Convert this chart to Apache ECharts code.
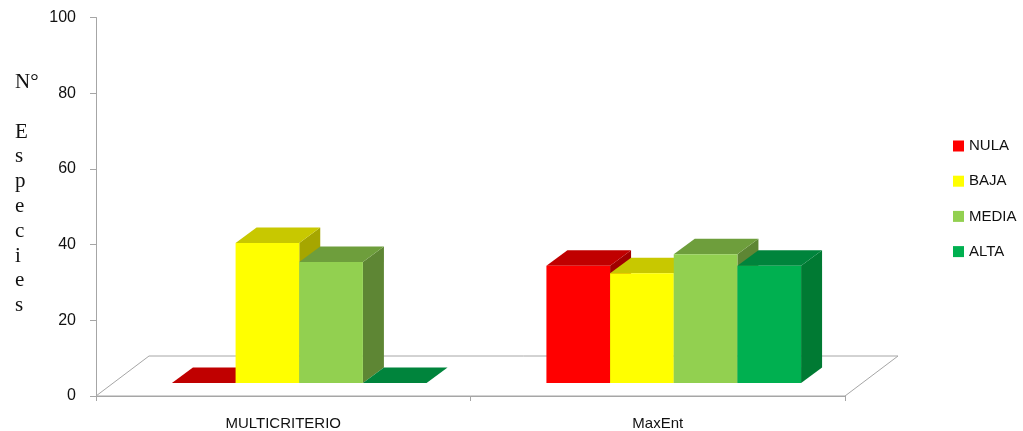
<!DOCTYPE html>
<html>
<head>
<meta charset="utf-8">
<script src="https://cdn.jsdelivr.net/npm/echarts@6/dist/echarts.min.js"></script>
<style>
  html, body { margin: 0; padding: 0; background: #fff; }
  #chart { width: 1023px; height: 431px; }
</style>
</head>
<body>
<div id="chart"></div>
<script>
// Species counts per suitability level, for each modelling method
const categories = ['MULTICRITERIO', 'MaxEnt'];
const levels = ['NULA', 'BAJA', 'MEDIA', 'ALTA'];
const nula = [0, 31];
const baja = [37, 29];
const media = [32, 34];
const alta = [0, 31];
const yTicks = [0, 20, 40, 60, 80, 100];

// Face colours for each level: front, top, side
const faces = {
  NULA:  { front: '#FF0000', top: '#C00000', side: '#A00000' },
  BAJA:  { front: '#FFFF00', top: '#C8C800', side: '#A6A600' },
  MEDIA: { front: '#92D050', top: '#6E9E3C', side: '#5E8634' },
  ALTA:  { front: '#00B050', top: '#00843C', side: '#007A33' }
};

// Oblique projection used for the pseudo-3D look
const FLOOR_DX = 53, FLOOR_DY = -40;   // full depth of the floor
const FRONT_DX = 16, FRONT_DY = -13;   // where the bars' front faces sit
const SIDE_DX = 21, SIDE_DY = -15.5;   // depth of each bar
const BAR_FRACTION = 0.17;             // bar width as share of a category band

const chart = echarts.init(document.getElementById('chart'), null, { renderer: 'canvas' });

function floorRender(params, api) {
  const cs = params.coordSys;
  const fl = [cs.x, cs.y + cs.height];
  const fr = [cs.x + cs.width, cs.y + cs.height];
  return {
    type: 'polygon',
    shape: { points: [fl, fr, [fr[0] + FLOOR_DX, fr[1] + FLOOR_DY], [fl[0] + FLOOR_DX, fl[1] + FLOOR_DY]] },
    style: { fill: '#FFFFFF', stroke: '#A6A6A6', lineWidth: 1 },
    silent: true
  };
}

function makeBarRender(idx, col) {
  return function (params, api) {
    const cat = api.value(0);
    const v = api.value(1);
    const base = api.coord([cat, 0]);
    const band = api.size([1, 0])[0];
    const barW = band * BAR_FRACTION;
    const h = api.size([0, v])[1];
    const x0 = base[0] - 2 * barW + idx * barW + FRONT_DX;
    const x1 = x0 + barW;
    const yb = base[1] + FRONT_DY;
    const yt = yb - h;
    const children = [];
    if (h > 0.5) {
      children.push({
        type: 'polygon',
        shape: { points: [[x1, yb], [x1 + SIDE_DX, yb + SIDE_DY], [x1 + SIDE_DX, yt + SIDE_DY], [x1, yt]] },
        style: { fill: col.side }
      });
    }
    children.push({
      type: 'polygon',
      shape: { points: [[x0, yt], [x1, yt], [x1 + SIDE_DX, yt + SIDE_DY], [x0 + SIDE_DX, yt + SIDE_DY]] },
      style: { fill: col.top }
    });
    if (h > 0.5) {
      children.push({
        type: 'rect',
        shape: { x: x0, y: yt, width: barW, height: h },
        style: { fill: col.front }
      });
    }
    return { type: 'group', children: children };
  };
}

const seriesValues = [nula, baja, media, alta];

const series = [{
  type: 'custom',
  name: 'floor',
  renderItem: floorRender,
  data: [[0, 0]],
  z: 1,
  silent: true,
  legendHoverLink: false
}];

levels.forEach(function (lvl, i) {
  series.push({
    type: 'custom',
    name: lvl,
    renderItem: makeBarRender(i, faces[lvl]),
    itemStyle: { color: faces[lvl].front },
    data: categories.map(function (c, k) { return [k, seriesValues[i][k]]; }),
    z: 3 + i
  });
});

chart.setOption({
  animation: false,
  backgroundColor: '#FFFFFF',
  grid: { left: 96, right: 178, top: 17.5, bottom: 34, containLabel: false },
  xAxis: {
    type: 'category',
    data: categories,
    axisLine: { show: true, lineStyle: { color: '#A6A6A6', width: 1 } },
    axisTick: { show: true, alignWithLabel: false, length: 5, lineStyle: { color: '#A6A6A6' } },
    axisLabel: { margin: 20, fontFamily: 'Liberation Sans', fontSize: 15, color: '#111111' },
    splitLine: { show: false }
  },
  yAxis: {
    type: 'value',
    min: 0,
    max: 100,
    interval: 20,
    axisLine: { show: true, lineStyle: { color: '#A6A6A6', width: 1 } },
    axisTick: { show: true, length: 6, lineStyle: { color: '#A6A6A6' } },
    axisLabel: {
      margin: 20,
      fontFamily: 'Liberation Sans',
      fontSize: 16,
      color: '#111111',
      formatter: function (v) { return yTicks.indexOf(v) >= 0 ? String(v) : ''; }
    },
    splitLine: { show: false }
  },
  legend: {
    data: levels,
    orient: 'vertical',
    left: 953,
    top: 138.5,
    padding: 0,
    itemWidth: 11,
    itemHeight: 11,
    itemGap: 20.2,
    icon: 'rect',
    textStyle: { fontFamily: 'Liberation Sans', fontSize: 15, color: '#111111', lineHeight: 15 }
  },
  graphic: [{
    type: 'text',
    left: 15,
    top: 70,
    style: {
      text: 'N°\n\nE\ns\np\ne\nc\ni\ne\ns',
      font: '21px "Liberation Serif"',
      lineHeight: 24.8,
      fill: '#111111',
      align: 'left'
    }
  }],
  series: series
});
</script>
</body>
</html>
